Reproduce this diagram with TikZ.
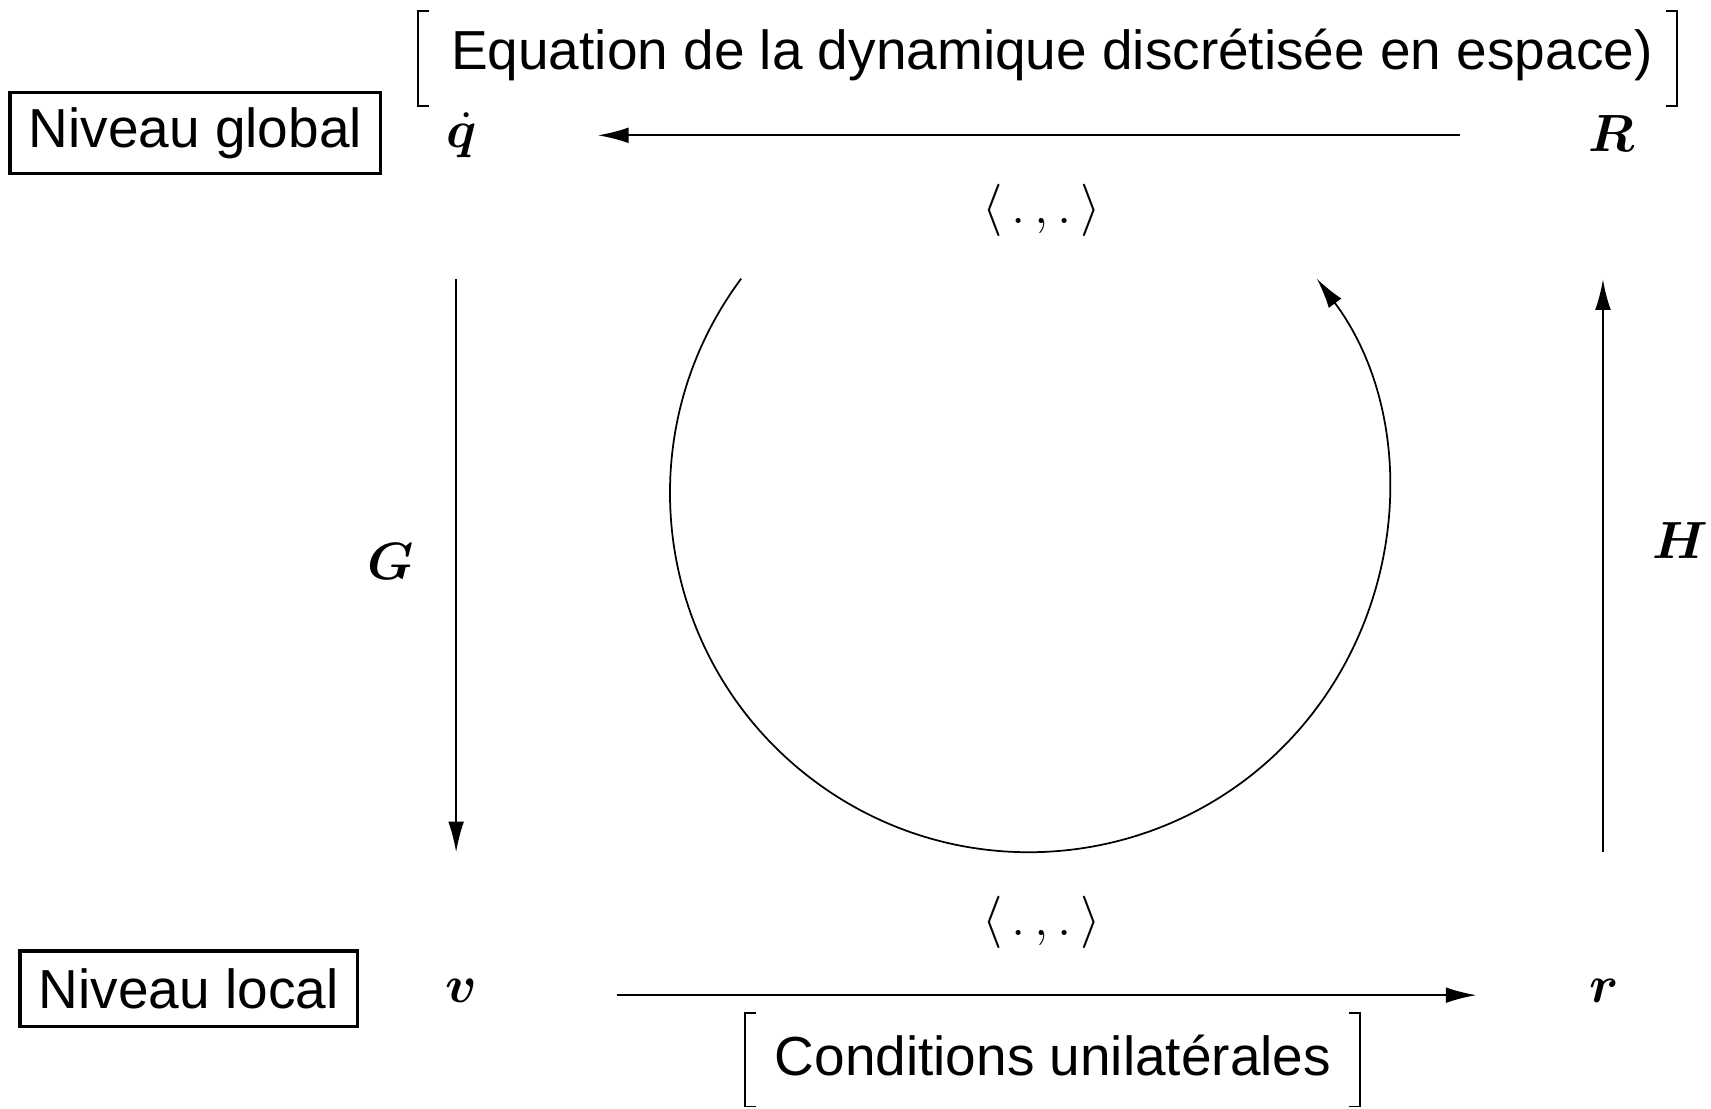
\documentclass[tikz,border=0pt]{standalone}
\usepackage[no-math]{fontspec}
\setmainfont{Liberation Sans}
\usepackage{amsmath,bm}
\usetikzlibrary{arrows.meta}
\tikzset{
  lbl/.style={font=\fontsize{12.6}{15}\selectfont, inner sep=0pt},
  mth/.style={font=\fontsize{11.7}{14}\selectfont, inner sep=0pt},
  boxed/.style={lbl, draw, line width=0.8pt, inner xsep=4.3pt},
  arr/.style={line width=0.4pt, -{Latex[length=7pt,width=3.6pt]}},
  brk/.style={line width=0.4pt}
}
\begin{document}
\begin{tikzpicture}[x=0.25pt,y=-0.25pt]
\useasboundingbox (0,0) rectangle (1568,1016);
% boxes
\node[boxed, inner ysep=3.4pt] (glob) at (179,122) {Niveau global};
\node[boxed, inner ysep=4pt] (loc) at (173,906) {Niveau local};
% top equation text
\node[lbl] (eq) at (964,50) {Equation de la dynamique discrétisée en espace)};
\draw[brk] (393,10) -- (383,10) -- (383,97) -- (393,97);
\draw[brk] (1527,10) -- (1537,10) -- (1537,97) -- (1527,97);
% bottom text
\node[lbl] (cu) at (965,967) {Conditions unilatérales};
\draw[brk] (693,928) -- (683,928) -- (683,1014) -- (693,1014);
\draw[brk] (1236,928) -- (1246,928) -- (1246,1014) -- (1236,1014);
% math nodes
\node[mth] (q) at (423,124) {$\dot{\bm q}$};
\node[mth] (R) at (1477,122) {$\bm R$};
\node[mth] (v) at (423,908) {$\bm v$};
\node[mth] (r) at (1470,908) {$\bm r$};
\node[mth] (G) at (358,515) {$\bm G$};
\node[mth] (H) at (1540,495) {$\bm H$};
\node[mth] (pt) at (955,193) {$\langle\,.\,,.\,\rangle$};
\node[mth] (pb) at (955,845) {$\langle\,.\,,.\,\rangle$};
% connectors
\coordinate (qa) at (548,124);
\coordinate (Ra) at (1338,124);
\draw[arr] (Ra) -- (qa);
\coordinate (va) at (565,912);
\coordinate (ra) at (1353,912);
\draw[arr] (va) -- (ra);
\coordinate (Gt) at (418,256);
\coordinate (Gb) at (418,781);
\draw[arr] (Gt) -- (Gb);
\coordinate (Hb) at (1469,781);
\coordinate (Ht) at (1469,256);
\draw[arr] (Hb) -- (Ht);
% cycle arc
\coordinate (c) at (943,452);
\draw[arr] ([shift={(-143.3:329)}]c) arc[start angle=-143.3, end angle=-396.7, radius=329];
\end{tikzpicture}
\end{document}
